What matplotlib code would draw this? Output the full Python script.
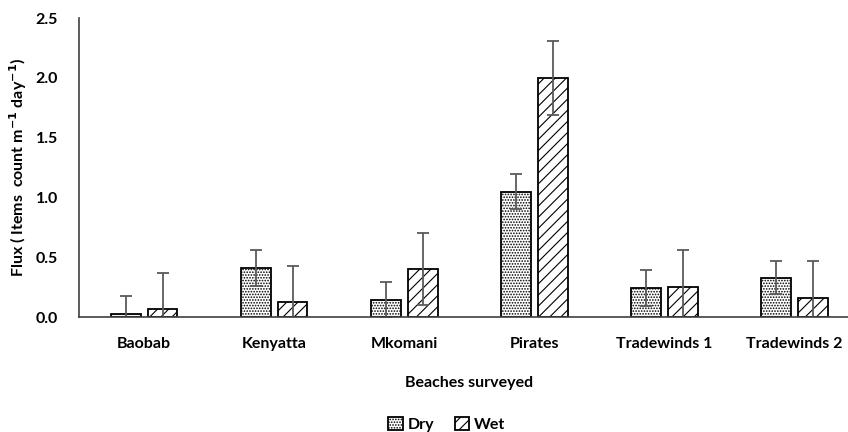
import matplotlib
matplotlib.use("Agg")
import matplotlib.pyplot as plt
import numpy as np

plt.rcParams['font.family'] = ['Lato', 'DejaVu Sans']
plt.rcParams['hatch.linewidth'] = 0.8

beaches = ["Baobab", "Kenyatta", "Mkomani", "Pirates", "Tradewinds 1", "Tradewinds 2"]
dry = [0.03, 0.41, 0.14, 1.05, 0.24, 0.33]
dry_err = [0.15, 0.15, 0.15, 0.15, 0.15, 0.14]
wet = [0.07, 0.125, 0.40, 2.00, 0.25, 0.16]
wet_err = [0.30, 0.30, 0.30, 0.31, 0.31, 0.31]

fig = plt.figure(figsize=(8.48, 4.32), dpi=100)
ax = fig.add_axes([0.0932, 0.266, 0.92, 0.692])

x = np.arange(len(beaches))
w = 0.23
off = 0.142
err_kw = dict(ecolor="#5a5a5a", elinewidth=1.3, capsize=4.5, capthick=1.3)

ax.bar(x - off, dry, w, yerr=dry_err, color="white", edgecolor="black",
       linewidth=1.3, hatch="......", error_kw=err_kw, label="Dry")
ax.bar(x + off, wet, w, yerr=wet_err, color="white", edgecolor="black",
       linewidth=1.3, hatch="///", error_kw=err_kw, label="Wet")

ax.set_xlim(-0.5, len(beaches) - 0.5)
ax.set_ylim(0, 2.5)
yt = np.arange(0, 2.51, 0.5)
ax.set_yticks(yt)
ax.set_yticklabels([f"{v:.1f}" for v in yt])
ax.set_xticks(x)
ax.set_xticklabels(beaches)
ax.tick_params(length=0, labelsize=11.5)
ax.tick_params(axis="y", pad=15)
ax.tick_params(axis="x", pad=14)
for lab in ax.get_xticklabels() + ax.get_yticklabels():
    lab.set_fontweight("bold")

for s in ["top", "right"]:
    ax.spines[s].set_visible(False)
for s in ["left", "bottom"]:
    ax.spines[s].set_color("#404040")
    ax.spines[s].set_linewidth(1.2)

ax.set_ylabel("Flux ( Items  count m$^{\\mathbf{-1}}$ day$^{\\mathbf{-1}}$)",
              fontsize=11.5, fontweight="bold", labelpad=5)
ax.set_xlabel("Beaches surveyed", fontsize=11.5, fontweight="bold", labelpad=18)

fig.legend(loc="center", bbox_to_anchor=(0.527, 0.018), ncol=2, frameon=False,
           prop={"weight": "bold", "size": 11.5},
           handlelength=0.9, handleheight=0.9, handletextpad=0.3, columnspacing=1.3)

fig.savefig("out.png", dpi=100)
